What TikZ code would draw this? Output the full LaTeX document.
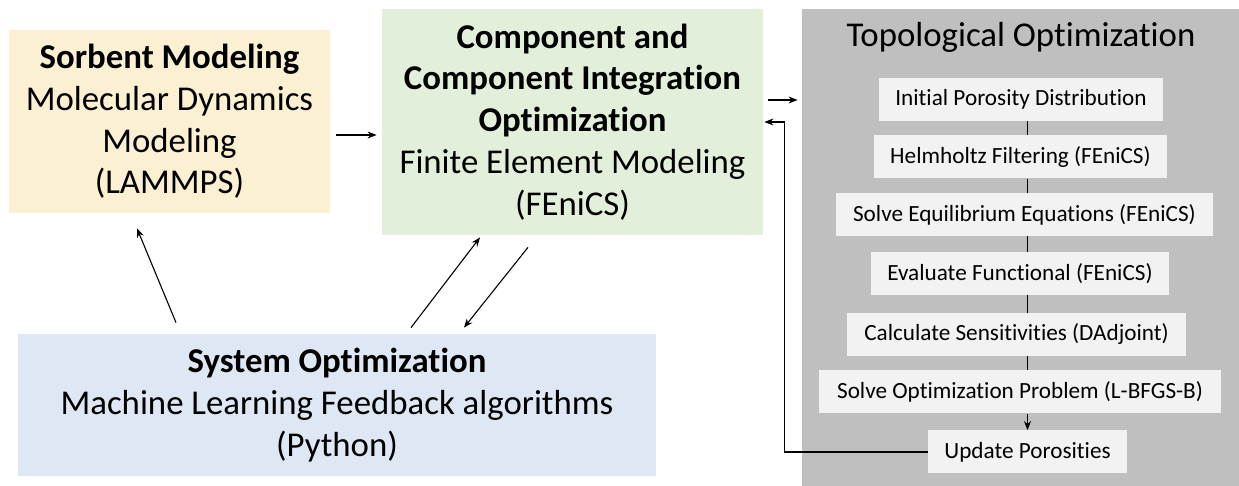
\documentclass[tikz,border=0pt]{standalone}
\usepackage{fontspec}
\setmainfont[Ligatures=NoCommon]{Carlito}
\usetikzlibrary{arrows.meta,calc}
\definecolor{cyellow}{HTML}{FCF0D2}
\definecolor{cgreen}{HTML}{E2EFDA}
\definecolor{cblue}{HTML}{DEE8F4}
\definecolor{cgray}{HTML}{BFBFBF}
\definecolor{cinner}{HTML}{F2F2F2}
\tikzset{
  bigbox/.style={draw=none, inner sep=0pt, align=center, font=\fontsize{17.4}{20.9}\selectfont},
  stepbox/.style={fill=cinner, draw=none, inner sep=0pt, minimum height=21.5pt, align=center, font=\fontsize{11.6}{14}\selectfont},
  arr/.style={-{Stealth[length=4.5pt,width=3.5pt]}, line width=0.55pt},
  link/.style={line width=0.55pt},
}
\begin{document}
\begin{tikzpicture}[x=0.5pt,y=-0.5pt]
\useasboundingbox (0,0) rectangle (1239,486);
% main boxes
\node[bigbox, fill=cyellow, minimum width=160.5pt, minimum height=91.5pt] (sorb) at (169.5,121.5)
  {\textbf{Sorbent Modeling}\\Molecular Dynamics\\Modeling\\(LAMMPS)};
\node[bigbox, fill=cgreen, minimum width=190.5pt, minimum height=113pt] (comp) at (572.5,122)
  {\textbf{Component and}\\\textbf{Component Integration}\\\textbf{Optimization}\\Finite Element Modeling\\(FEniCS)};
\node[bigbox, fill=cblue, minimum width=319pt, minimum height=71pt] (sys) at (337,405)
  {\textbf{System Optimization}\\Machine Learning Feedback algorithms\\(Python)};
\node[bigbox, fill=cgray, minimum width=218.5pt, minimum height=238.5pt] (topo) at (1020.5,247.5) {};
\node[bigbox] (title) at (1021,37) {Topological Optimization};
% inner steps
\node[stepbox, minimum width=142pt] (s1) at (1021,99.5) {Initial Porosity Distribution};
\node[stepbox, minimum width=146.5pt] (s2) at (1020.5,157) {Helmholtz Filtering (FEniCS)};
\node[stepbox, minimum width=188.5pt] (s3) at (1024.5,214.5) {Solve Equilibrium Equations (FEniCS)};
\node[stepbox, minimum width=149pt] (s4) at (1020,273.5) {Evaluate Functional (FEniCS)};
\node[stepbox, minimum width=169.5pt] (s5) at (1016.5,334.5) {Calculate Sensitivities (DAdjoint)};
\node[stepbox, minimum width=201pt] (s6) at (1020,392) {Solve Optimization Problem (L-BFGS-B)};
\node[stepbox, minimum width=99.5pt] (s7) at (1027.5,452) {Update Porosities};
% inner connectors
\draw[link] (s1.south -| s7.north) -- (s2.north -| s7.north);
\draw[link] (s2.south -| s7.north) -- (s3.north -| s7.north);
\draw[link] (s3.south -| s7.north) -- (s4.north -| s7.north);
\draw[link] (s4.south -| s7.north) -- (s5.north -| s7.north);
\draw[link] (s5.south -| s7.north) -- (s6.north -| s7.north);
\draw[arr] (s6.south -| s7.north) -- (s7.north);
% main arrows
\draw[arr] ($(sorb.east)+(6,13.5)$) -- ($(comp.west)+(-5,13)$);
\draw[arr] ($(comp.east)+(5,-22)$) -- ($(topo.west |- comp.east)+(-4,-22)$);
\coordinate (ret) at ($(comp.east)+(21,0)$);
\draw[arr] (s7.west) -| (ret) -- ($(comp.east)+(1,0)$);
\draw[arr] ($(sys.north)+(-161,-11)$) -- ($(sorb.south)+(-32.5,15)$);
\draw[arr] ($(sys.north)+(74,-6)$) -- ($(comp.south)+(-92.5,2)$);
\draw[arr] ($(comp.south)+(-44.5,12)$) -- ($(sys.north)+(127,-6)$);
\end{tikzpicture}
\end{document}
